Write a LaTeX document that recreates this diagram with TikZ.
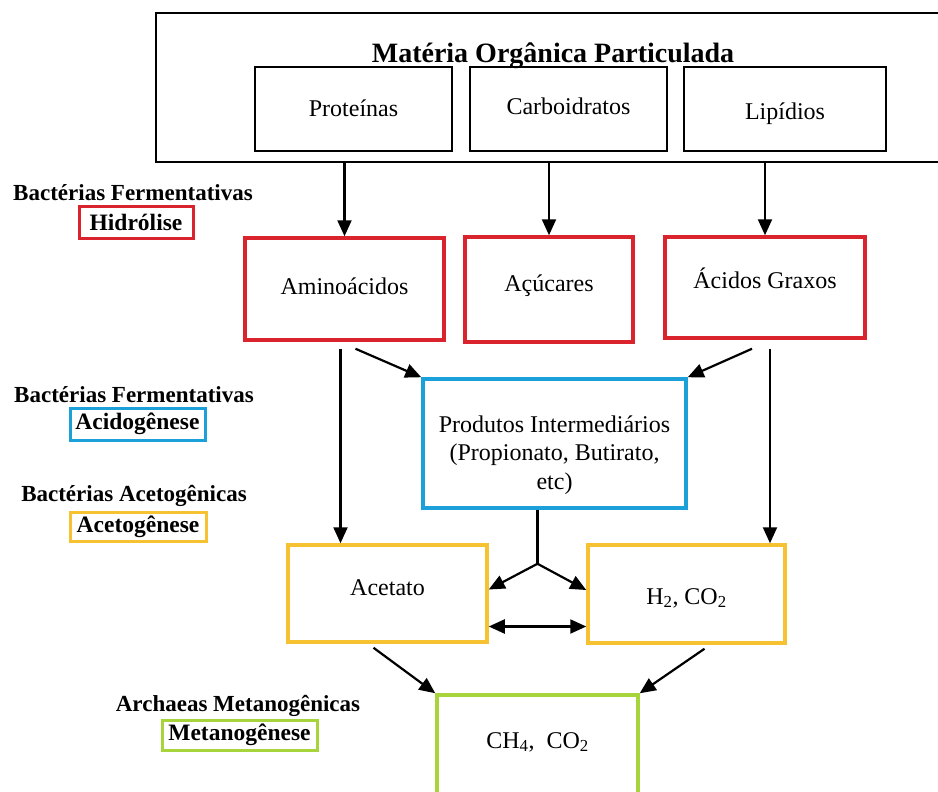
\documentclass[tikz,border=0pt]{standalone}
\usepackage{fontspec}
\setmainfont{Liberation Serif}
\usetikzlibrary{arrows.meta,positioning,calc}
\definecolor{vermelho}{RGB}{217,35,45}
\definecolor{azul}{RGB}{27,160,218}
\definecolor{amarelo}{RGB}{246,194,50}
\definecolor{verde}{RGB}{166,212,58}
\begin{document}
\begin{tikzpicture}[x=1pt, y=-1pt,
    texto/.style={font=\fontsize{24}{28.5}\selectfont},
    sobe/.style={text height=24pt-#1, text depth=8pt+#1},
    sobe/.default=0pt,
    caixa/.style={draw=#1, line width=3.5pt, texto, inner sep=0pt, align=center},
    caixapreta/.style={draw, line width=1.8pt, texto, inner sep=0pt},
    grupo/.style={font=\bfseries\fontsize{23}{27}\selectfont, inner sep=0pt},
    fase/.style={draw=#1, line width=3pt, font=\bfseries\fontsize{23.5}{27}\selectfont, inner sep=0pt},
    seta/.style={line width=2.2pt, -{Triangle[length=16pt,width=14pt]}}]
    \clip (0,0) rectangle (938,792);

    % Materia organica particulada
    \node[caixapreta, minimum width=804pt, minimum height=149pt] (mop) at (558,87.5) {};
    \node[anchor=base, font=\bfseries\fontsize{28}{32}\selectfont, inner sep=0pt] (titulo) at (553,63) {Matéria Orgânica Particulada};
    \node[caixapreta, sobe=0pt, minimum width=197pt, minimum height=84pt] (prot) at (353.5,109) {Proteínas};
    \node[caixapreta, sobe=3pt, minimum width=197pt, minimum height=84pt] (carb) at (568.5,109) {Carboidratos};
    \node[caixapreta, sobe=-2pt, minimum width=202pt, minimum height=84pt] (lip) at (785,109) {Lipídios};

    % Hidrolise
    \node[caixa=vermelho, sobe=3pt, minimum width=199pt, minimum height=102pt] (ami) at (344.5,289) {Aminoácidos};
    \node[caixa=vermelho, sobe=6pt, minimum width=168pt, minimum height=105pt] (acu) at (549,289.5) {Açúcares};
    \node[caixa=vermelho, sobe=7pt, minimum width=200pt, minimum height=101pt] (aci) at (765,287.5) {Ácidos Graxos};

    % Acidogenese
    \node[caixa=azul, minimum width=263pt, minimum height=129pt] (prod) at (554.5,443.5)
        {\rule{0pt}{40pt}Produtos Intermediários\\(Propionato, Butirato,\\etc)};

    % Acetogenese
    \node[caixa=amarelo, sobe=6pt, minimum width=199pt, minimum height=97pt] (ace) at (387.5,593.5) {Acetato};
    \node[caixa=amarelo, sobe=-2pt, minimum width=197pt, minimum height=98pt] (h2) at (686.5,594) {H\textsubscript{2}, CO\textsubscript{2}};

    % Metanogenese
    \node[caixa=verde, sobe=8pt, minimum width=201pt, minimum height=106pt] (met) at (537.5,748) {CH\textsubscript{4},\ \ CO\textsubscript{2}};

    % fases
    \node[grupo] (g1) at (133,193) {Bactérias Fermentativas};
    \node[fase=vermelho, minimum width=114pt, minimum height=32pt] (f1) at (136,222) {Hidrólise};
    \node[grupo] (g2) at (134,395) {Bactérias Fermentativas};
    \node[fase=azul, minimum width=135pt, minimum height=32pt] (f2) at (137.5,424) {Acidogênese};
    \node[grupo] (g3) at (134,496) {Bactérias Acetogênicas};
    \node[fase=amarelo, minimum width=136pt, minimum height=29pt] (f3) at (138,526.5) {Acetogênese};
    \node[grupo] (g4) at (238,706) {Archaeas Metanogênicas};
    \node[fase=verde, minimum width=155pt, minimum height=30pt] (f4) at (239.5,735) {Metanogênese};

    % setas
    \draw[seta] (ami |- mop.south) -- (ami.north);
    \draw[seta] (acu |- mop.south) -- (acu.north);
    \draw[seta] (aci |- mop.south) -- (aci.north);

    \coordinate (a1) at ([xshift=-4pt,yshift=-7pt]ami.south);
    \coordinate (a2) at ([xshift=11pt,yshift=-7pt]ami.south);
    \coordinate (b1) at ([xshift=-13pt,yshift=-9pt]aci.south);
    \coordinate (b2) at ([xshift=5pt,yshift=-9pt]aci.south);
    \draw[seta] (a1) -- (a1 |- ace.north);
    \draw[seta] (a2) -- (prod.north west);
    \draw[seta] (b1) -- (prod.north east);
    \draw[seta] (b2) -- (b2 |- h2.north);

    \coordinate (jun) at ([xshift=-17pt,yshift=-54pt]prod.south);
    \draw[line width=2.2pt] (jun |- prod.south) -- (jun);
    \draw[seta] (jun) -- ([yshift=4pt]ace.east);
    \draw[seta] (jun) -- ([yshift=4pt]h2.west);
    \draw[line width=2.2pt, {Triangle[length=16pt,width=14pt]}-{Triangle[length=16pt,width=14pt]}]
        ([yshift=-33pt]ace.east) -- ([yshift=-33pt]ace.east -| h2.west);

    \draw[seta] ([xshift=-14pt,yshift=-4pt]ace.south) -- (met.north west);
    \draw[seta] ([xshift=18pt,yshift=-4pt]h2.south) -- (met.north east);
\end{tikzpicture}
\end{document}
